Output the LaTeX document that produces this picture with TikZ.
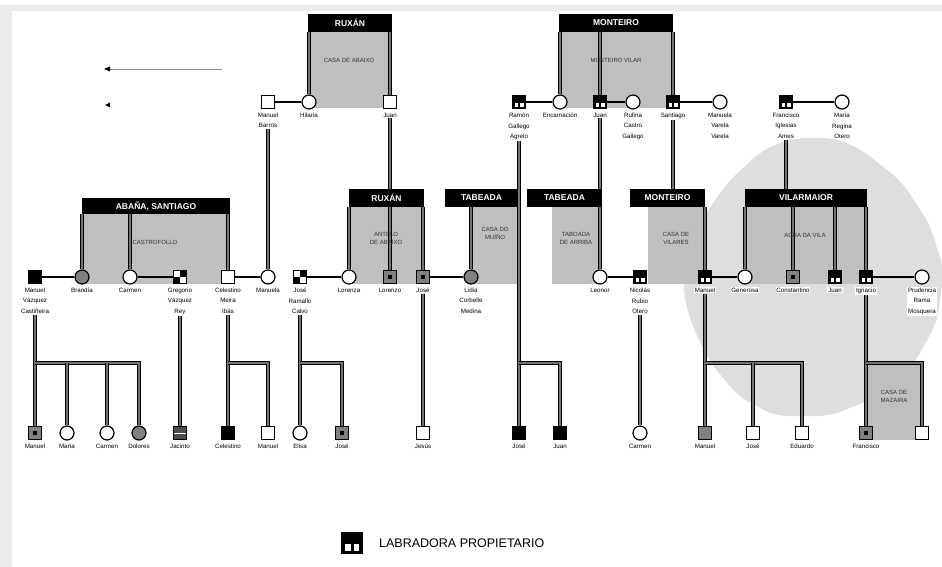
\documentclass[tikz,border=0pt]{standalone}
\usepackage{fontspec}
\setmainfont{Liberation Sans}
\begin{document}
\begin{tikzpicture}[x=1pt,y=-1pt]
\tikzset{
 sym/.style={draw=black, line width=1.2pt, inner sep=0pt, minimum size=13pt, fill=white},
 wsq/.style={sym},
 bsq/.style={sym, fill=black},
 gsq/.style={sym, fill=black!50},
 dsq/.style={sym, fill=black!50, path picture={\fill[black] ([shift={(-2pt,-2pt)}]path picture bounding box.center) rectangle ++(4pt,4pt);}},
 lsq/.style={sym, fill=black, path picture={\fill[white] ([shift={(2pt,1.6pt)}]path picture bounding box.south west) rectangle ++(3.4pt,4.2pt); \fill[white] ([shift={(-2pt,1.6pt)}]path picture bounding box.south east) rectangle ++(-3.4pt,4.2pt);}},
 lgsq/.style={sym, fill=black, path picture={\fill[white] ([shift={(3pt,2.5pt)}]path picture bounding box.south west) rectangle ++(5.5pt,7pt); \fill[white] ([shift={(-3pt,2.5pt)}]path picture bounding box.south east) rectangle ++(-5.5pt,7pt);}},
 qsq/.style={sym, path picture={\fill[black] (path picture bounding box.center) rectangle (path picture bounding box.north east); \fill[black] (path picture bounding box.center) rectangle (path picture bounding box.south west);}},
 hsq/.style={sym, fill=black!70, path picture={\draw[white,line width=1pt] (path picture bounding box.west) -- (path picture bounding box.east);}},
 wci/.style={sym, circle, minimum size=14pt},
 gci/.style={sym, circle, minimum size=14pt, fill=black!50},
 nm/.style={font=\fontsize{6.2}{10.5}\selectfont, align=center, inner sep=0.8pt, fill=white, anchor=north},
 desc/.style={draw=black, line width=0.9pt, double=black!55, double distance=1.3pt},
 mar/.style={draw=black, line width=1.4pt},
 hdr/.style={fill=black, text=white, font=\bfseries\fontsize{8.5}{10}\selectfont, inner sep=0pt, minimum height=18pt},
 boxtxt/.style={font=\fontsize{6}{8}\selectfont, text=black!80, align=center},
 boxfill/.style={fill=black!25},
}
\newcommand\pp[5]{\node[#2] (#1) at (#3,#4) {}; \node[nm] (#1l) at (#3,#4+10) {#5};}
\useasboundingbox (0,0) rectangle (942,567);
% frame
\fill[black!8] (0,5) rectangle (942,567);
\fill[white] (12,11) rectangle (942,567);
% blob
\fill[black!13, rounded corners=12pt] (790,138) -- (835,138) -- (862,150) -- (902,182) -- (930,225) -- (944,270) -- (937,322) -- (915,362) -- (880,396) -- (830,416) -- (775,416) -- (738,396) -- (710,362) -- (694,330) -- (683,295) -- (688,255) -- (705,215) -- (727,183) -- (760,152) -- cycle;
% house boxes
\fill[boxfill] (309,32) rectangle (390,108);
\fill[boxfill] (560,32) rectangle (673,108);
\fill[boxfill] (82,213) rectangle (228,284);
\fill[boxfill] (349,207) rectangle (423,284);
\fill[boxfill] (471,207) rectangle (519,284);
\fill[boxfill] (552,207) rectangle (600,284);
\fill[boxfill] (648,207) rectangle (705,284);
\fill[boxfill] (745,207) rectangle (866,284);
\fill[boxfill] (866,363) rectangle (922,440);
% headers
\node[hdr, minimum width=84pt] (hR1) at (350,23) {RUXÁN};
\node[hdr, minimum width=114pt] (hM1) at (616,23) {MONTEIRO};
\node[hdr, minimum width=148pt, minimum height=16pt] (hA) at (156,206) {ABAÑA, SANTIAGO};
\node[hdr, minimum width=75pt] (hR2) at (386.5,198) {RUXÁN};
\node[hdr, minimum width=73pt] (hT1) at (481.5,198) {TABEADA};
\node[hdr, minimum width=75pt] (hT2) at (564.5,198) {TABEADA};
\node[hdr, minimum width=75pt] (hM2) at (667.5,198) {MONTEIRO};
\node[hdr, minimum width=122pt] (hV) at (806,198) {VILARMAIOR};
% generation 1
\pp{a1}{wsq}{268}{102}{Manuel\\Barros}
\pp{a2}{wci}{309}{102}{Hilaria}
\pp{a3}{wsq}{390}{102}{Juan}
\pp{a4}{lsq}{519}{102}{Ramón\\Gallego\\Agrelo}
\pp{a5}{wci}{560}{102}{Encarnación}
\pp{a6}{lsq}{600}{102}{Juan}
\pp{a7}{wci}{633}{102}{Rufina\\Castro\\Gallego}
\pp{a8}{lsq}{673}{102}{Santiago}
\pp{a9}{wci}{720}{102}{Manuela\\Varela\\Varela}
\pp{a10}{lsq}{786}{102}{Francisco\\Iglesias\\Ames}
\pp{a11}{wci}{842}{102}{María\\Regina\\Otero}
% generation 2
\pp{b1}{bsq}{35}{277}{Manuel\\Vázquez\\Castiñeira}
\pp{b2}{gci}{82}{277}{Brandía}
\pp{b3}{wci}{130}{277}{Carmen}
\pp{b4}{qsq}{180}{277}{Gregorio\\Vázquez\\Rey}
\pp{b5}{wsq}{228}{277}{Celestino\\Meira\\Ibás}
\pp{b6}{wci}{268}{277}{Manuela}
\pp{b7}{qsq}{300}{277}{José\\Ramallo\\Calvo}
\pp{b8}{wci}{349}{277}{Lorenza}
\pp{b9}{dsq}{390}{277}{Lorenzo}
\pp{b10}{dsq}{423}{277}{José}
\pp{b11}{gci}{471}{277}{Lidia\\Corbelle\\Medina}
\pp{b12}{wci}{600}{277}{Leonor}
\pp{b13}{lsq}{640}{277}{Nicolás\\Rubio\\Otero}
\pp{b14}{lsq}{705}{277}{Manuel}
\pp{b15}{wci}{745}{277}{Generosa}
\pp{b16}{dsq}{793}{277}{Constantino}
\pp{b17}{lsq}{835}{277}{Juan}
\pp{b18}{lsq}{866}{277}{Ignacio}
\pp{b19}{wci}{922}{277}{Prudencia\\Rama\\Mosquera}
% generation 3
\pp{c1}{dsq}{35}{433}{Manuel}
\pp{c2}{wci}{67}{433}{María}
\pp{c3}{wci}{107}{433}{Carmen}
\pp{c4}{gci}{139}{433}{Dolores}
\pp{c5}{hsq}{180}{433}{Jacinto}
\pp{c6}{bsq}{228}{433}{Celestino}
\pp{c7}{wsq}{268}{433}{Manuel}
\pp{c8}{wci}{300}{433}{Elisa}
\pp{c9}{dsq}{342}{433}{José}
\pp{c10}{wsq}{423}{433}{Jesús}
\pp{c11}{bsq}{519}{433}{José}
\pp{c12}{bsq}{560}{433}{Juan}
\pp{c13}{wci}{640}{433}{Carmen}
\pp{c14}{gsq}{705}{433}{Manuel}
\pp{c15}{wsq}{753}{433}{José}
\pp{c16}{wsq}{802}{433}{Eduardo}
\pp{c17}{dsq}{866}{433}{Francisco}
\node[wsq] (c18) at (922,433) {};
% marriages
\draw[mar] (a1) -- (a2); \draw[mar] (a4) -- (a5); \draw[mar] (a6) -- (a7);
\draw[mar] (a8) -- (a9); \draw[mar] (a10) -- (a11);
\draw[mar] (b1) -- (b2); \draw[mar] (b3) -- (b4); \draw[mar] (b5) -- (b6);
\draw[mar] (b7) -- (b8); \draw[mar] (b10) -- (b11); \draw[mar] (b12) -- (b13);
\draw[mar] (b14) -- (b15); \draw[mar] (b18) -- (b19);
% house lines
\foreach \p in {a2,a3} \draw[desc] (hR1.south -| \p) -- (\p.north);
\foreach \p in {a5,a6,a8} \draw[desc] (hM1.south -| \p) -- (\p.north);
\foreach \p in {b2,b3,b5} \draw[desc] (hA.south -| \p) -- (\p.north);
\foreach \p in {b8,b9,b10} \draw[desc] (hR2.south -| \p) -- (\p.north);
\draw[desc] (hT1.south -| b11) -- (b11.north);
\draw[desc] (hT2.south -| b12) -- (b12.north);
\draw[desc] (hM2.south -| b14) -- (b14.north);
\foreach \p in {b15,b16,b17,b18} \draw[desc] (hV.south -| \p) -- (\p.north);
% descents gen1 -> gen2
\draw[desc] (a1l.south) -- (b6.north);
\draw[desc] (a3l.south) -- (a3l.south |- hR2.north);
\draw[desc] (a6l.south) -- (a6l.south |- hT2.north);
\draw[desc] (a8l.south) -- (a8l.south |- hM2.north);
\draw[desc] (a10l.south) -- (a10l.south |- hV.north);
% descents gen2 -> gen3
\coordinate (bar) at (0,363);
\draw[desc] (b1l.south) -- (c1.north);
\draw[desc] (c1.north |- bar) -| (c4.north);
\foreach \p in {c2,c3} \draw[desc] (\p.north |- bar) -- (\p.north);
\draw[desc] (b4l.south) -- (c5.north);
\draw[desc] (b5l.south) -- (c6.north);
\draw[desc] (c6.north |- bar) -| (c7.north);
\draw[desc] (b7l.south) -- (c8.north);
\draw[desc] (c8.north |- bar) -| (c9.north);
\draw[desc] (b10l.south) -- (c10.north);
\draw[desc] (a4l.south) -- (c11.north);
\draw[desc] (c11.north |- bar) -| (c12.north);
\draw[desc] (b13l.south) -- (c13.north);
\draw[desc] (b14l.south) -- (c14.north);
\draw[desc] (c14.north |- bar) -| (c16.north);
\draw[desc] (c15.north |- bar) -- (c15.north);
\draw[desc] (b18l.south) -- (c17.north);
\draw[desc] (c17.north |- bar) -| (c18.north);
% house texts
\node[boxtxt] (t1) at (349,60) {CASA DE ABAIXO};
\node[boxtxt] (t2) at (616,60) {MOSTEIRO VILAR};
\node[boxtxt] (t3) at (155,242) {CASTROFOLLO};
\node[boxtxt] (t4) at (386,238) {ANTELO\\DE ABAIXO};
\node[boxtxt] (t5) at (495,233) {CASA DO\\MUÍÑO};
\node[boxtxt] (t6) at (576,238) {TABOADA\\DE ARRIBA};
\node[boxtxt] (t7) at (676,238) {CASA DE\\VILARES};
\node[boxtxt] (t8) at (805,235) {ACHA DA VILA};
\node[boxtxt] (t9) at (894,396) {CASA DE\\MAZAIRA};
% top-left marks
\coordinate (ar1) at (222,69);
\coordinate (ar2) at (108,69);
\draw[black!45, line width=0.8pt] (ar1) -- (ar2);
\fill[black] (ar2) ++(-4,0) -- ++(6,-2.5) -- ++(0,5) -- cycle;
\coordinate (ar3) at (108,105);
\fill[black] (ar3) ++(-3,0) -- ++(5,-2.5) -- ++(0,5) -- cycle;
% legend
\node[lgsq, minimum size=20pt, line width=1.4pt] (leg) at (352,543) {};
\node[anchor=west, font=\fontsize{12.5}{14}\selectfont, inner sep=0pt] (legt) at (379,543) {LABRADORA PROPIETARIO};
\end{tikzpicture}
\end{document}
